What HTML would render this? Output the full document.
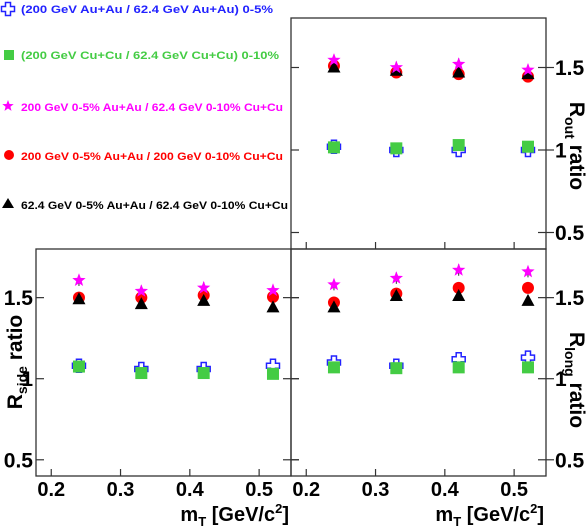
<!DOCTYPE html>
<html><head><meta charset="utf-8"><style>
body{margin:0;background:#fff;}
svg{display:block;font-family:"Liberation Sans",Arial,sans-serif;font-weight:bold;}
</style></head><body>
<svg id="c" width="588" height="530" viewBox="0 0 588 530"></svg>
<script>
const mt = [0.24, 0.33, 0.42, 0.52];
const xTicks = [0.2, 0.3, 0.4, 0.5];
const yTicks = [0.5, 1, 1.5];
const yTickLabels = ["0.5", "1", "1.5"];
const outAuAu = [1.02, 1.00, 1.00, 1.00];
const outCuCu = [1.016, 1.01, 1.03, 1.02];
const outStar = [1.545, 1.50, 1.52, 1.485];
const outRed = [1.51, 1.47, 1.46, 1.445];
const outTri = [1.50, 1.48, 1.47, 1.46];
const sideAuAu = [1.08, 1.06, 1.06, 1.08];
const sideCuCu = [1.075, 1.035, 1.035, 1.03];
const sideStar = [1.607, 1.54, 1.56, 1.545];
const sideRed = [1.50, 1.50, 1.515, 1.505];
const sideTri = [1.49, 1.46, 1.48, 1.44];
const longAuAu = [1.10, 1.08, 1.12, 1.13];
const longCuCu = [1.07, 1.065, 1.07, 1.07];
const longStar = [1.58, 1.62, 1.67, 1.66];
const longRed = [1.47, 1.525, 1.56, 1.56];
const longTri = [1.44, 1.51, 1.51, 1.48];
const legendLabels = ["(200 GeV Au+Au / 62.4 GeV Au+Au) 0-5%","(200 GeV Cu+Cu / 62.4 GeV Cu+Cu) 0-10%","200 GeV 0-5% Au+Au / 62.4 GeV 0-10% Cu+Cu","200 GeV 0-5% Au+Au / 200 GeV 0-10% Cu+Cu","62.4 GeV 0-5% Au+Au / 62.4 GeV 0-10% Cu+Cu"];

const NS="http://www.w3.org/2000/svg";
const svg=document.getElementById('c');
function mk(tag,attrs,parent){const e=document.createElementNS(NS,tag);for(const k in attrs)e.setAttribute(k,attrs[k]);(parent||svg).appendChild(e);return e;}
const X0=0.178,X1=0.546,Y0=0.40,Y1=1.80;
const panels=[
 {name:'rout-panel',l:291,r:546,t:18,b:249,auau:outAuAu,cucu:outCuCu,star:outStar,red:outRed,tri:outTri,yside:'right',xlabels:false,title:'out',tcy:146},
 {name:'rside-panel',l:36,r:291,t:249,b:476,auau:sideAuAu,cucu:sideCuCu,star:sideStar,red:sideRed,tri:sideTri,yside:'left',xlabels:true,title:'side',tcy:362},
 {name:'rlong-panel',l:291,r:546,t:249,b:476,auau:longAuAu,cucu:longCuCu,star:longStar,red:longRed,tri:longTri,yside:'right',xlabels:true,title:'long',tcy:380}
];
function star(cx,cy,R,g){let p=[];for(let i=0;i<10;i++){const r=i%2?R*0.42:R;const a=-Math.PI/2+i*Math.PI/5;p.push((cx+r*Math.cos(a)).toFixed(1)+','+(cy+r*Math.sin(a)).toFixed(1));}return mk('polygon',{points:p.join(' '),fill:'#f0f'},g);}
function cross(cx,cy,g){const a=2.5,b=6.5;const pts=[[-a,-b],[a,-b],[a,-a],[b,-a],[b,a],[a,a],[a,b],[-a,b],[-a,a],[-b,a],[-b,-a],[-a,-a]].map(p=>(cx+p[0])+','+(cy+p[1])).join(' ');return mk('polygon',{points:pts,fill:'#fff',stroke:'#22f','stroke-width':1.5},g);}
panels.forEach(P=>{
 const g=mk('g',{});
 
 
 const sx=v=>P.l+(v-X0)/(X1-X0)*(P.r-P.l);
 const sy=v=>P.b-(v-Y0)/(Y1-Y0)*(P.b-P.t);
 const fr=mk('rect',{x:P.l,y:P.t,width:P.r-P.l,height:P.b-P.t,fill:'none',stroke:'#333','stroke-width':1.3},g);
 
 
 xTicks.forEach(v=>{mk('line',{x1:sx(v),x2:sx(v),y1:P.b,y2:P.b-7,stroke:'#333','stroke-width':1.2},g);
  if(P.xlabels){const t=mk('text',{x:sx(v),y:P.b+20,'font-size':20,'text-anchor':'middle',fill:'#000'},g);t.textContent=String(v);
   
   }});
 yTicks.forEach((v,i)=>{mk('line',{x1:P.l,x2:P.l+8,y1:sy(v),y2:sy(v),stroke:'#333','stroke-width':1.2},g);
  mk('line',{x1:P.r-8,x2:P.r+8,y1:sy(v),y2:sy(v),stroke:'#333','stroke-width':1.2},g);
  const t=mk('text',{x:P.yside==='right'?P.r+9:P.l-3,y:sy(v)+7.5,'font-size':21,'text-anchor':P.yside==='right'?'start':'end',fill:'#000'},g);t.textContent=yTickLabels[i];
  
  });
 mt.forEach((m,i)=>{const x=sx(m);
  cross(x,sy(P.auau[i]),g);
  mk('rect',{x:x-6,y:sy(P.cucu[i])-6,width:12,height:12,fill:'#4c4'},g);
  mk('line',{x1:x,x2:x,y1:sy(P.star[i]+0.035),y2:sy(P.star[i]-0.035),stroke:'#333','stroke-width':1},g);
  mk('circle',{cx:x,cy:sy(P.red[i]),r:6,fill:'#f00'},g);
  const ty=sy(P.tri[i]);mk('polygon',{points:`${x},${ty-7} ${x+6.5},${ty+5} ${x-6.5},${ty+5}`,fill:'#000'},g);
  star(x,sy(P.star[i]),7,g);
 });
 let tt;
 if(P.yside==='right'){const cx=570,cy=P.tcy;tt=mk('text',{x:cx,y:cy,'font-size':21,'text-anchor':'middle',transform:`rotate(90 ${cx} ${cy})`,fill:'#000'},g);}
 else{const cx=22,cy=P.tcy;tt=mk('text',{x:cx,y:cy,'font-size':21,'text-anchor':'middle',transform:`rotate(-90 ${cx} ${cy})`,fill:'#000'},g);}
 tt.innerHTML=`R<tspan font-size="14" dy="5">${P.title}</tspan><tspan dy="-5"> ratio</tspan>`;
 
 
 if(P.xlabels){const t=mk('text',{x:P.r-2,y:521,'font-size':20,'text-anchor':'end',fill:'#000'},g);
  t.innerHTML='m<tspan font-size="13" dy="5">T</tspan><tspan dy="-5"> [GeV/c</tspan><tspan font-size="13" dy="-8">2</tspan><tspan dy="8">]</tspan>';
  
  }
});
const lg=mk('g',{});


const ly=[9,55,107,156,205];const lc=['#22f','#4c4','#f0f','#f00','#000'];const lw=[252,258,262,262,267];
legendLabels.forEach((s,i)=>{const y=ly[i];
 if(i===0)cross(8,y,lg);
 if(i===1)mk('rect',{x:4,y:y-5,width:10,height:10,fill:'#4c4'},lg);
 if(i===2)star(8,y-1,6,lg);
 if(i===3)mk('circle',{cx:9,cy:y-1,r:5,fill:'#f00'},lg);
 if(i===4)mk('polygon',{points:`8,${y-7} 14,${y+3} 2,${y+3}`,fill:'#000'},lg);
 const t=mk('text',{x:21,y:y+4,'font-size':11,fill:lc[i],textLength:lw[i],lengthAdjust:'spacingAndGlyphs'},lg);t.textContent=s;
 
 
});
</script>
</body></html>
